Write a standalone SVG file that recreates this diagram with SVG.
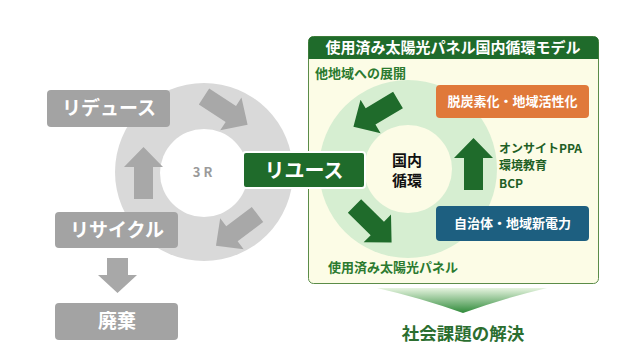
<svg xmlns="http://www.w3.org/2000/svg" width="627" height="355" viewBox="0 0 627 355">
<style>
text{font-family:"Noto Sans CJK JP","Noto Sans",sans-serif;font-weight:bold}
.gbox{fill:#a3a3a3}
.wt{fill:#ffffff;text-anchor:middle}
.garr{fill:#a8a8a8}
.carr{fill:#1f6b2b}
.gt{fill:#2b7a2f}
</style>
<defs>
<path id="arr" d="M0,-9.5 L32,-9.5 L32,-19.5 L52,0 L32,19.5 L32,9.5 L0,9.5 Z"/>
<linearGradient id="fun" x1="0" y1="0" x2="0" y2="1">
<stop offset="0" stop-color="#e6f4df"/>
<stop offset="1" stop-color="#2f8a3a"/>
</linearGradient>
</defs>
<rect width="627" height="355" fill="#ffffff"/>

<g id="ring3r">
<circle cx="204" cy="172" r="89" fill="#d9d9d9"/>
<circle cx="204" cy="173" r="44" fill="#ffffff"/>
<text x="204" y="177" font-size="13" fill="#9a9a9a" text-anchor="middle" letter-spacing="3">3R</text>
</g>

<g id="connectors">
<use href="#arr" class="garr" transform="translate(204,96.5) rotate(33)"/>
<use href="#arr" class="garr" transform="translate(257.5,214.5) rotate(143)"/>
<use href="#arr" class="garr" transform="translate(143.5,199) rotate(-90)"/>
<path class="garr" d="M107,258 L128,258 L128,275 L137,275 L117.5,293 L98,275 L107,275 Z"/>
</g>

<g id="reduce">
<rect class="gbox" x="47" y="90" width="123" height="37" rx="4"/>
<text class="wt" x="109" y="115" font-size="19">リデュース</text>
</g>
<g id="recycle">
<rect class="gbox" x="55" y="212" width="123" height="36" rx="4"/>
<text class="wt" x="117" y="237" font-size="19">リサイクル</text>
</g>
<g id="haiki">
<rect class="gbox" x="55" y="303" width="123" height="37" rx="4"/>
<text class="wt" x="117" y="328" font-size="19">廃棄</text>
</g>

<g id="panel">
<rect x="308.5" y="36.5" width="290" height="247" rx="5" fill="#fcfce6" stroke="#5b8c48" stroke-width="1"/>
<path d="M308.5,59 L308.5,41.5 Q308.5,36.5 313.5,36.5 L593.5,36.5 Q598.5,36.5 598.5,41.5 L598.5,59 Z" fill="#1f6b2b"/>
<text class="wt" x="453" y="53" font-size="15">使用済み太陽光パネル国内循環モデル</text>
<text class="gt" x="315" y="78" font-size="13">他地域への展開</text>
<text class="gt" x="328" y="272" font-size="13">使用済み太陽光パネル</text>
</g>

<g id="ringdomestic">
<circle cx="408" cy="169" r="89" fill="#d6eed1"/>
<circle cx="408" cy="169" r="44" fill="#fcfce6"/>
<text x="407" y="166" font-size="15" fill="#111111" text-anchor="middle">国内</text>
<text x="407" y="186" font-size="15" fill="#111111" text-anchor="middle">循環</text>
</g>

<g id="greenarrows">
<use href="#arr" class="carr" transform="translate(398,100) rotate(149)"/>
<use href="#arr" class="carr" transform="translate(354.5,206) rotate(44.5)"/>
<use href="#arr" class="carr" transform="translate(473.5,190) rotate(-90)"/>
</g>

<g id="reuse">
<rect x="243" y="152" width="122" height="36" rx="3" fill="#1f6b2b" stroke="#ffffff" stroke-width="2"/>
<text class="wt" x="304" y="178" font-size="20">リユース</text>
</g>

<g id="decarb">
<rect x="436" y="85" width="153" height="33" rx="4" fill="#e0793a"/>
<text class="wt" x="512.5" y="106" font-size="13">脱炭素化・地域活性化</text>
</g>

<g id="localgov">
<rect x="436" y="206" width="153" height="35" rx="4" fill="#1d5f80"/>
<text class="wt" x="512.5" y="228" font-size="13">自治体・地域新電力</text>
</g>

<g id="ppa">
<text x="499" y="152.5" font-size="12" fill="#1f5f25">オンサイトPPA</text>
<text x="499" y="170" font-size="12" fill="#1f5f25">環境教育</text>
<text x="499" y="187.5" font-size="12" fill="#1f5f25">BCP</text>
</g>

<g id="solution">
<path d="M377,288 L547,288 Q505,298 463,313 Q421,298 377,288 Z" fill="url(#fun)"/>
<text x="463" y="340" font-size="17.5" fill="#2b6e2f" text-anchor="middle">社会課題の解決</text>
</g>
</svg>
